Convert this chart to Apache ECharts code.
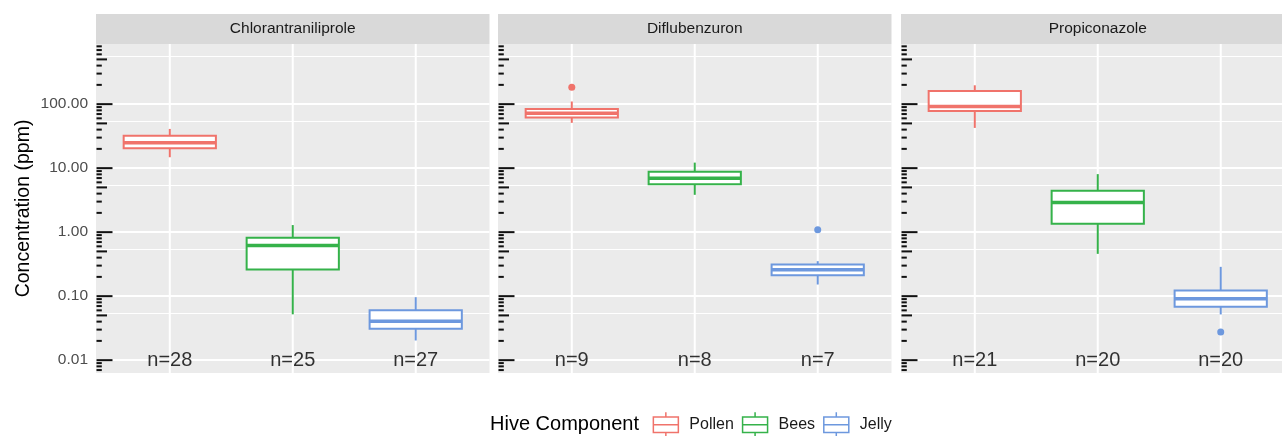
<!DOCTYPE html>
<html>
<head>
<meta charset="utf-8">
<script src="https://cdn.jsdelivr.net/npm/echarts@6/dist/echarts.min.js"></script>
<style>
html,body{margin:0;padding:0;background:#fff;}
#chart{width:1282px;height:436px;}
</style>
</head>
<body>
<div id="chart"></div>
<script>
// ---------------- DATA ----------------
const panels = ['Chlorantraniliprole', 'Diflubenzuron', 'Propiconazole'];
const components = ['Pollen', 'Bees', 'Jelly'];
// [lower whisker, Q1, median, Q3, upper whisker] per panel
const pollenStats = [[14.8, 20.5, 25, 32, 41], [51, 62, 72, 84, 110], [42.5, 78, 91.7, 161, 197]];
const beesStats   = [[0.052, 0.261, 0.62, 0.815, 1.29], [3.83, 5.6, 6.98, 8.75, 12.2], [0.458, 1.35, 2.9, 4.42, 8.06]];
const jellyStats  = [[0.0203, 0.0309, 0.0407, 0.0604, 0.0964], [0.152, 0.213, 0.258, 0.313, 0.352], [0.0518, 0.068, 0.0908, 0.123, 0.287]];
// outliers per panel
const pollenOutliers = [[], [183], []];
const beesOutliers   = [[], [], []];
const jellyOutliers  = [[], [1.09], [0.0275]];
// sample sizes per panel, per component
const sampleSizes = [[28, 25, 27], [9, 8, 7], [21, 20, 20]];
// y tick labels (log scale)
const yTicks = [0.01, 0.1, 1, 10, 100];
// log tick marks (annotation_logticks): mantissas and decades
const logMantissas = [1, 2, 3, 4, 5, 6, 7, 8, 9];
const logDecades = [-3, -2, -1, 0, 1, 2];

// ---------------- STYLE / LAYOUT ----------------
const FONT = '"Liberation Sans", Arial, Helvetica, sans-serif';
const colors = { Pollen: '#F0736B', Bees: '#35B24A', Jelly: '#6D98DE' };
const PANEL_LEFT = [96, 498, 901];
const PANEL_W = 393.5, PANEL_TOP = 44, PANEL_H = 329;
const STRIP_TOP = 14, STRIP_H = 30;
const Y_MIN = 0.0063, Y_MAX = 870;
const X_MIN = 0.4, X_MAX = 3.6;
const BOX_WIDTH = 0.75;
const N_LABEL_Y = 0.01;

const statsByComp = { Pollen: pollenStats, Bees: beesStats, Jelly: jellyStats };
const outByComp = { Pollen: pollenOutliers, Bees: beesOutliers, Jelly: jellyOutliers };

const logTicks = [];
logDecades.forEach(d => logMantissas.forEach(m => {
  logTicks.push([X_MIN, m * Math.pow(10, d), m === 1 ? 3 : (m === 5 ? 2 : 1)]);
}));

function renderBox(params, api) {
  const cs = params.coordSys;
  const x = api.value(0);
  const cx = api.coord([x, api.value(3)])[0];
  const hw = api.size([BOX_WIDTH, 0], [x, api.value(3)])[0] / 2;
  const yLo = api.coord([x, api.value(1)])[1];
  const yQ1 = api.coord([x, api.value(2)])[1];
  const yMed = api.coord([x, api.value(3)])[1];
  const yQ3 = api.coord([x, api.value(4)])[1];
  const yHi = api.coord([x, api.value(5)])[1];
  const color = api.visual('color');
  return {
    type: 'group',
    children: [
      { type: 'line', shape: { x1: cx, y1: cs.y, x2: cx, y2: cs.y + cs.height }, style: { stroke: '#fff', lineWidth: 2 } },
      { type: 'line', shape: { x1: cx, y1: yHi, x2: cx, y2: yQ3 }, style: { stroke: color, lineWidth: 2 } },
      { type: 'line', shape: { x1: cx, y1: yQ1, x2: cx, y2: yLo }, style: { stroke: color, lineWidth: 2 } },
      { type: 'rect', shape: { x: cx - hw, y: yQ3, width: 2 * hw, height: yQ1 - yQ3 }, style: { fill: '#fff', stroke: color, lineWidth: 2 } },
      { type: 'line', shape: { x1: cx - hw, y1: yMed, x2: cx + hw, y2: yMed }, style: { stroke: color, lineWidth: 3.5 } }
    ]
  };
}

function renderLogTick(params, api) {
  const cs = params.coordSys;
  const y = api.coord([api.value(0), api.value(1)])[1];
  if (y < cs.y - 0.5 || y > cs.y + cs.height + 0.5) return null;
  const kind = api.value(2);
  const len = kind === 3 ? 16 : (kind === 2 ? 10.5 : 5.3);
  return { type: 'line', shape: { x1: cs.x + 0.5, y1: y, x2: cs.x + 0.5 + len, y2: y }, style: { stroke: '#111', lineWidth: 2 } };
}

const grids = [], xAxes = [], yAxes = [], series = [], graphics = [];

panels.forEach((pname, p) => {
  grids.push({
    left: PANEL_LEFT[p], top: PANEL_TOP, width: PANEL_W, height: PANEL_H,
    show: true, backgroundColor: '#EBEBEB', borderWidth: 0, containLabel: false,
    outerBoundsMode: 'none'
  });
  xAxes.push({
    type: 'value', gridIndex: p, min: X_MIN, max: X_MAX,
    axisLine: { show: false }, axisTick: { show: false }, axisLabel: { show: false }, splitLine: { show: false }
  });
  yAxes.push({
    type: 'log', logBase: 10, gridIndex: p, min: Y_MIN, max: Y_MAX,
    axisLine: { show: false }, axisTick: { show: false },
    axisLabel: {
      show: p === 0, showMinLabel: false, showMaxLabel: false,
      formatter: v => yTicks.some(t => Math.abs(Math.log10(v / t)) < 1e-6) ? v.toFixed(2) : '',
      fontSize: 15.5, color: '#4D4D4D', fontFamily: FONT, margin: 8
    },
    splitLine: { show: true, showMinLine: false, showMaxLine: false, lineStyle: { color: '#fff', width: 2 } },
    minorTick: { show: false, splitNumber: 2 },
    minorSplitLine: { show: true, lineStyle: { color: '#fff', width: 1 } },
    name: p === 0 ? 'Concentration (ppm)' : '',
    nameLocation: 'middle', nameRotate: 90, nameGap: 62,
    nameTextStyle: { fontSize: 19.5, color: '#000', fontFamily: FONT }
  });

  // boxes
  components.forEach((comp, c) => {
    series.push({
      type: 'custom', name: comp, xAxisIndex: p, yAxisIndex: p, z: 2,
      itemStyle: { color: colors[comp] },
      encode: { x: 0, y: [1, 2, 3, 4, 5] },
      data: [[c + 1].concat(statsByComp[comp][p])],
      renderItem: renderBox
    });
    const outs = outByComp[comp][p];
    if (outs.length) {
      series.push({
        type: 'scatter', name: comp, xAxisIndex: p, yAxisIndex: p, z: 4,
        symbol: 'circle', symbolSize: 7,
        itemStyle: { color: colors[comp], opacity: 1 },
        data: outs.map(v => [c + 1, v])
      });
    }
  });

  // log tick marks
  series.push({
    type: 'custom', name: 'logticks' + p, xAxisIndex: p, yAxisIndex: p, z: 3,
    encode: { x: 0, y: 1 },
    data: logTicks, renderItem: renderLogTick, silent: true
  });

  // n labels
  series.push({
    type: 'scatter', name: 'n' + p, xAxisIndex: p, yAxisIndex: p, z: 5,
    symbolSize: 1, itemStyle: { color: 'rgba(0,0,0,0)' },
    data: sampleSizes[p].map((n, c) => [c + 1, N_LABEL_Y, n]),
    label: {
      show: true, position: 'inside', formatter: prm => 'n=' + prm.value[2],
      fontSize: 20, color: '#000', fontFamily: FONT
    },
    silent: true
  });

  // strip
  graphics.push({
    type: 'rect', silent: true,
    shape: { x: PANEL_LEFT[p], y: STRIP_TOP, width: PANEL_W, height: STRIP_H },
    style: { fill: '#D9D9D9' }
  });
  graphics.push({
    type: 'text', silent: true,
    x: PANEL_LEFT[p] + PANEL_W / 2, y: STRIP_TOP + STRIP_H / 2,
    style: { text: pname, fill: '#1A1A1A', fontSize: 15.5, fontFamily: FONT, align: 'center', verticalAlign: 'middle' }
  });
});

graphics.push({
  type: 'text', silent: true, x: 490, y: 424,
  style: { text: 'Hive Component', fill: '#000', fontSize: 20, fontFamily: FONT, align: 'left', verticalAlign: 'middle' }
});

const BOX_ICON = 'path://M12.5,0V4.65M0,4.65H25V20.15H0ZM0,12.4H25M12.5,20.15V24.8';

const option = {
  animation: false,
  backgroundColor: '#fff',
  textStyle: { fontFamily: FONT },
  grid: grids,
  xAxis: xAxes,
  yAxis: yAxes,
  legend: {
    left: 652.6, top: 411.6, padding: 0, orient: 'horizontal',
    itemWidth: 25, itemHeight: 25, itemGap: 8, selectedMode: false,
    data: components.map(c => ({
      name: c, icon: BOX_ICON,
      itemStyle: { color: '#fff', borderColor: colors[c], borderWidth: 1.5 }
    })),
    textStyle: { fontSize: 16, color: '#1A1A1A', fontFamily: FONT, padding: [0, 0, 0, 6] }
  },
  graphic: graphics,
  series: series
};

const chart = echarts.init(document.getElementById('chart'), null, { renderer: 'canvas' });
chart.setOption(option);
</script>
</body>
</html>
